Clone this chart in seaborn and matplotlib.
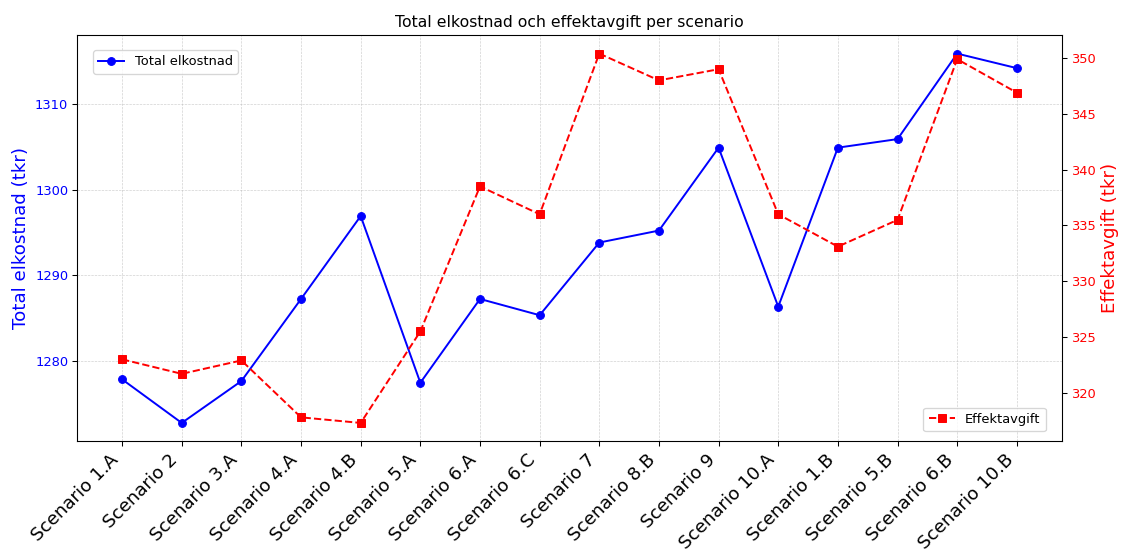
import numpy as np
import pandas as pd
import seaborn as sns
import matplotlib
matplotlib.use("Agg")
import matplotlib.pyplot as plt

scenarios = ["Scenario 1.A", "Scenario 2", "Scenario 3.A", "Scenario 4.A", "Scenario 4.B",
             "Scenario 5.A", "Scenario 6.A", "Scenario 6.C", "Scenario 7", "Scenario 8.B",
             "Scenario 9", "Scenario 10.A", "Scenario 1.B", "Scenario 5.B", "Scenario 6.B",
             "Scenario 10.B"]
total_elkostnad = [1277.8, 1272.7, 1277.6, 1287.2, 1296.9, 1277.4, 1287.2, 1285.3,
                   1293.8, 1295.2, 1304.9, 1286.3, 1304.9, 1305.9, 1315.9, 1314.2]
effektavgift = [323.0, 321.7, 322.9, 317.8, 317.3, 325.5, 338.5, 336.0,
                350.4, 348.0, 349.0, 336.0, 333.1, 335.5, 349.9, 346.9]

df = pd.DataFrame({"scenario": scenarios, "total": total_elkostnad, "effekt": effektavgift})

DPI = 94
fig, ax1 = plt.subplots(figsize=(1121 / DPI, 549 / DPI), dpi=DPI)
fig.subplots_adjust(left=0.069, right=0.947, top=0.936, bottom=0.196)

sns.lineplot(data=df, x="scenario", y="total", ax=ax1, color="blue", marker="o",
             markersize=6, markeredgecolor="blue", sort=False, label="Total elkostnad")
ax1.set_xlabel("")
ax1.set_ylabel("Total elkostnad (tkr)", color="blue", fontsize=14)
ax1.tick_params(axis="y", labelcolor="blue")
ax1.grid(True, linestyle="--", linewidth=0.5, alpha=0.6)
ax1.legend(loc="upper left", bbox_to_anchor=(0.016, 0.963), borderaxespad=0)
plt.setp(ax1.get_xticklabels(), rotation=45, ha="right", fontsize=14)

ax2 = ax1.twinx()
sns.lineplot(data=df, x="scenario", y="effekt", ax=ax2, color="red", marker="s",
             markersize=6, markeredgecolor="red", linestyle="--", sort=False, label="Effektavgift")
ax2.set_ylabel("Effektavgift (tkr)", color="red", fontsize=14)
ax2.tick_params(axis="y", labelcolor="red")
ax2.legend(loc="lower right", bbox_to_anchor=(0.984, 0.025), borderaxespad=0)

ax1.set_title("Total elkostnad och effektavgift per scenario")
fig.savefig("out.png", dpi=DPI)
